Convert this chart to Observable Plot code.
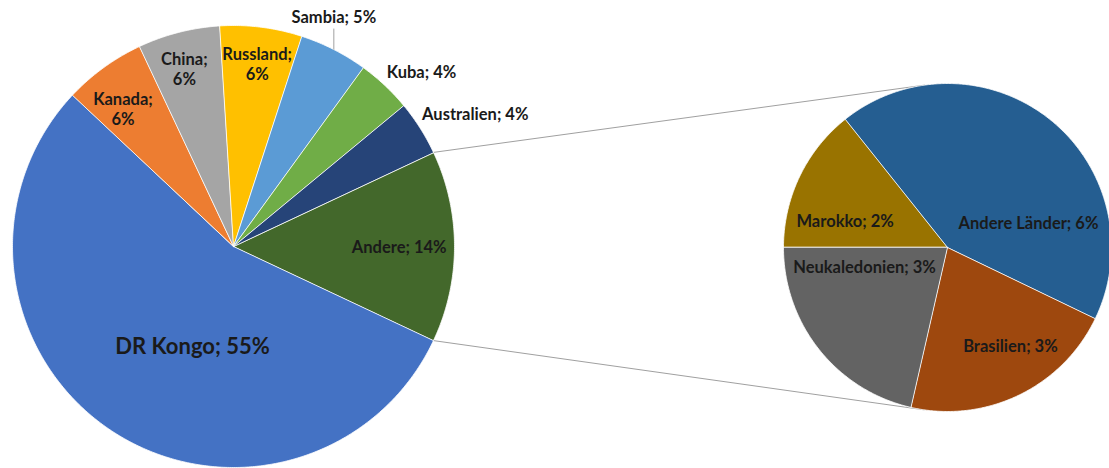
<!DOCTYPE html>
<html><head><meta charset="utf-8">
<script src="https://cdn.jsdelivr.net/npm/d3@7"></script>
<script src="https://cdn.jsdelivr.net/npm/@observablehq/plot@0.6"></script>
<style>body{margin:0;background:#fff}</style>
</head><body><div id="chart"></div>
<script>
// ---- data ----
const mainLabels = ["Andere", "DR Kongo", "Kanada", "China", "Russland", "Sambia", "Kuba", "Australien"];
const mainValues = [14, 55, 6, 6, 6, 5, 4, 4];
const mainColors = ["#43682b", "#4472c4", "#ed7d31", "#a5a5a5", "#ffc000", "#5b9bd5", "#70ad47", "#264478"];
const subLabels = ["Marokko", "Andere Länder", "Brasilien", "Neukaledonien"];
const subValues = [2, 6, 3, 3];
const subColors = ["#997300", "#255e91", "#9e480e", "#636363"];

// ---- layout ----
const W = 1109, H = 468;
const mainPie = {cx: 233, cy: 246, r: 221};
const subPie = {cx: 947, cy: 247, r: 164};
const deg = Math.PI / 180;
const mainStart = 90 * deg - (mainValues[0] / d3.sum(mainValues)) * Math.PI;
const subStart = 270 * deg;

const mainLayout = {
  "Andere": {k: 0.75, da: 0},
  "DR Kongo": {k: 0.49, da: -12, big: true},
  "Kanada": {k: 0.80, da: -2.7, two: true},
  "China": {k: 0.837, da: -1, two: true},
  "Russland": {k: 0.833, da: 0.2, two: true},
  "Sambia": {leader: true},
  "Kuba": {side: true},
  "Australien": {side: true}
};
const subLayout = {
  "Marokko": {k: 0.645, da: -11},
  "Andere Länder": {k: 0.517, da: 34.3},
  "Brasilien": {k: 0.71, da: -7},
  "Neukaledonien": {k: 0.519, da: 25.7}
};

function arcs(values, start) {
  return d3.pie().sort(null).startAngle(start).endAngle(start + 2 * Math.PI)(values);
}
function pt(p, a, k = 1) { return [p.cx + k * p.r * Math.sin(a), p.cy - k * p.r * Math.cos(a)]; }
function slicePolys(pie, arcArr, labels, colors) {
  const rows = [];
  arcArr.forEach((a, i) => {
    const key = labels[i];
    rows.push({key, color: colors[i], x: pie.cx, y: pie.cy});
    const n = Math.max(2, Math.ceil((a.endAngle - a.startAngle) / deg * 2));
    for (let j = 0; j <= n; j++) {
      const t = a.startAngle + (a.endAngle - a.startAngle) * j / n;
      const [x, y] = pt(pie, t);
      rows.push({key, color: colors[i], x, y});
    }
  });
  return rows;
}

const mainArcs = arcs(mainValues, mainStart);
const subArcs = arcs(subValues, subStart);
const polys = slicePolys(mainPie, mainArcs, mainLabels, mainColors)
  .concat(slicePolys(subPie, subArcs, subLabels, subColors));

// labels
const inLabels = [], bigLabels = [], sideLabels = [], leaderLabels = [], leaders = [];
mainArcs.forEach((a, i) => {
  const name = mainLabels[i], L = mainLayout[name];
  const mid = (a.startAngle + a.endAngle) / 2;
  if (L.leader) {
    const [x, y] = pt(mainPie, mid);
    leaders.push({x1: x, y1: y, x2: x, y2: y - 21});
    leaderLabels.push({x, y: y - 32, text: `${name}; ${mainValues[i]}%`});
  } else if (L.side) {
    const [x, y] = pt(mainPie, mid);
    sideLabels.push({x: x + 2, y: y - 13, text: `${name}; ${mainValues[i]}%`});
  } else {
    const [x, y] = pt(mainPie, mid + L.da * deg, L.k);
    const text = L.two ? `${name};\n${mainValues[i]}%` : `${name}; ${mainValues[i]}%`;
    (L.big ? bigLabels : inLabels).push({x, y, text});
  }
});
subArcs.forEach((a, i) => {
  const name = subLabels[i], L = subLayout[name];
  const mid = (a.startAngle + a.endAngle) / 2;
  const [x, y] = pt(subPie, mid + L.da * deg, L.k);
  inLabels.push({x, y, text: `${name}; ${subValues[i]}%`});
});

// connector lines: from the split slice edges to the tangents of the secondary pie
const split = mainArcs[0];
function tangent(P, sign) {
  const dx = subPie.cx - P[0], dy = subPie.cy - P[1];
  const d = Math.hypot(dx, dy);
  const th = Math.atan2(dy, dx) + sign * Math.asin(subPie.r / d);
  const len = Math.sqrt(d * d - subPie.r * subPie.r);
  return [P[0] + len * Math.cos(th), P[1] + len * Math.sin(th)];
}
const pTop = pt(mainPie, split.startAngle), pBot = pt(mainPie, split.endAngle);
const tTop = tangent(pTop, -1), tBot = tangent(pBot, 1);
const connectors = [
  {x1: pTop[0], y1: pTop[1], x2: tTop[0], y2: tTop[1]},
  {x1: pBot[0], y1: pBot[1], x2: tBot[0], y2: tBot[1]}
];

const textColor = "#1a1a1a";
const fs = 16.5;
const chart = Plot.plot({
  width: W, height: H, margin: 0,
  x: {domain: [0, W], axis: null},
  y: {domain: [0, H], range: [0, H], axis: null},
  color: {type: "identity"},
  style: {fontFamily: "Lato, 'Open Sans', sans-serif", background: "#fff"},
  marks: [
    Plot.link(connectors, {x1: "x1", y1: "y1", x2: "x2", y2: "y2", stroke: "#a0a0a0", strokeWidth: 1}),
    Plot.line(polys, {x: "x", y: "y", z: "key", fill: "color", stroke: "white", strokeWidth: 0.8, curve: "linear-closed"}),
    Plot.link(leaders, {x1: "x1", y1: "y1", x2: "x2", y2: "y2", stroke: "#a0a0a0", strokeWidth: 1}),
    Plot.text(inLabels, {x: "x", y: "y", text: "text", fill: textColor, fontSize: fs, fontWeight: "bold", lineHeight: 1.22}),
    Plot.text(bigLabels, {x: "x", y: "y", text: "text", fill: textColor, fontSize: 22, fontWeight: "bold"}),
    Plot.text(sideLabels, {x: "x", y: "y", text: "text", fill: textColor, fontSize: fs, fontWeight: "bold", textAnchor: "start"}),
    Plot.text(leaderLabels, {x: "x", y: "y", text: "text", fill: textColor, fontSize: fs, fontWeight: "bold"})
  ]
});
document.getElementById("chart").appendChild(chart);
</script>
</body></html>
